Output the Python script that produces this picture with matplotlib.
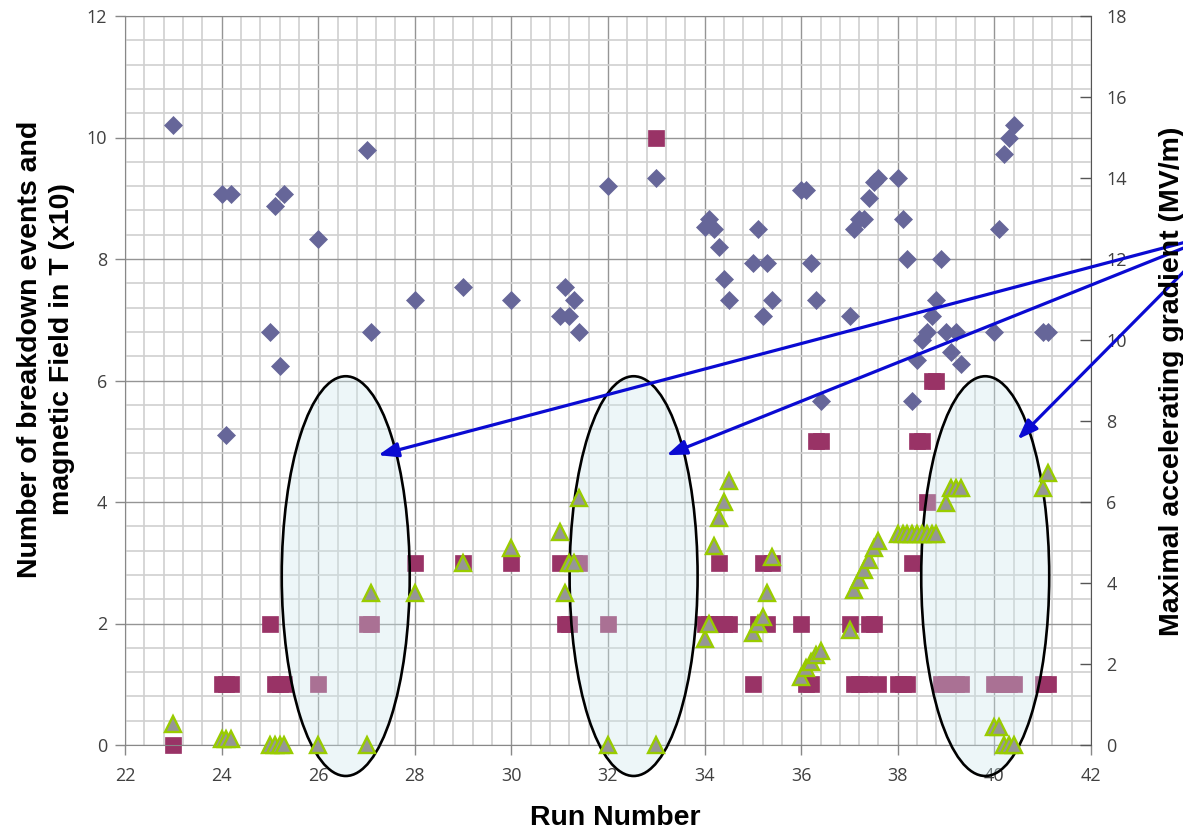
import matplotlib
matplotlib.use('Agg')
import matplotlib.pyplot as plt
from matplotlib.patches import Ellipse
from matplotlib.ticker import MultipleLocator

# max accelerating gradient (MV/m), right axis
grad_run = [23.0, 24.0, 24.1, 24.2, 25.0, 25.1, 25.2, 25.3, 26.0, 27.0, 27.1,
            28.0, 29.0, 30.0, 31.0, 31.1, 31.2, 31.3, 31.4, 32.0, 33.0,
            34.0, 34.1, 34.2, 34.3, 34.4, 34.5, 35.0, 35.1, 35.2, 35.3, 35.4,
            36.0, 36.1, 36.2, 36.3, 36.4, 37.0, 37.1, 37.2, 37.3, 37.4, 37.5, 37.6,
            38.0, 38.1, 38.2, 38.3, 38.4, 38.5, 38.6, 38.7, 38.8, 38.9,
            39.0, 39.1, 39.2, 39.3, 40.0, 40.1, 40.2, 40.3, 40.4, 41.0, 41.1]
grad_val = [15.3, 13.6, 7.65, 13.6, 10.2, 13.3, 9.35, 13.6, 12.5, 14.7, 10.2,
            11.0, 11.3, 11.0, 10.6, 11.3, 10.6, 11.0, 10.2, 13.8, 14.0,
            12.8, 13.0, 12.75, 12.3, 11.5, 11.0, 11.9, 12.75, 10.6, 11.9, 11.0,
            13.7, 13.7, 11.9, 11.0, 8.5, 10.6, 12.75, 13.0, 13.0, 13.5, 13.9, 14.0,
            14.0, 13.0, 12.0, 8.5, 9.5, 10.0, 10.2, 10.6, 11.0, 12.0,
            10.2, 9.7, 10.2, 9.4, 10.2, 12.75, 14.6, 15.0, 15.3, 10.2, 10.2]

# number of breakdown events, left axis
bd_run = [23.0, 24.0, 24.1, 24.2, 25.0, 25.1, 25.2, 25.3, 26.0, 27.0, 27.1,
          28.0, 29.0, 30.0, 31.0, 31.1, 31.2, 31.3, 31.4, 32.0, 33.0,
          34.0, 34.1, 34.2, 34.3, 34.4, 34.5, 35.0, 35.1, 35.2, 35.3, 35.4,
          36.0, 36.1, 36.2, 36.3, 36.4, 37.0, 37.1, 37.2, 37.3, 37.4, 37.5, 37.6,
          38.0, 38.1, 38.2, 38.3, 38.4, 38.5, 38.6, 38.7, 38.8, 38.9,
          39.0, 39.1, 39.2, 39.3, 40.0, 40.1, 40.2, 40.3, 40.4, 41.0, 41.1]
bd_val = [0, 1, 1, 1, 2, 1, 1, 1, 1, 2, 2,
          3, 3, 3, 3, 2, 2, 3, 3, 2, 10,
          2, 2, 2, 3, 2, 2, 1, 2, 3, 2, 3,
          2, 1, 1, 5, 5, 2, 1, 1, 1, 2, 2, 1,
          1, 1, 1, 3, 5, 5, 4, 6, 6, 1,
          1, 1, 1, 1, 1, 1, 1, 1, 1, 1, 1]

# magnetic field in T (x10), left axis
b_run = [23.0, 24.0, 24.1, 24.2, 25.0, 25.1, 25.2, 25.3, 26.0, 27.0, 27.1,
         28.0, 29.0, 30.0, 31.0, 31.1, 31.2, 31.3, 31.4, 32.0, 33.0,
         34.0, 34.1, 34.2, 34.3, 34.4, 34.5, 35.0, 35.1, 35.2, 35.3, 35.4,
         36.0, 36.1, 36.2, 36.3, 36.4, 37.0, 37.1, 37.2, 37.3, 37.4, 37.5, 37.6,
         38.0, 38.1, 38.2, 38.3, 38.4, 38.5, 38.6, 38.7, 38.8,
         39.0, 39.1, 39.2, 39.3, 40.0, 40.1, 40.2, 40.3, 40.4, 41.0, 41.1]
b_val = [0.35, 0.1, 0.1, 0.1, 0, 0, 0, 0, 0, 0, 2.5,
         2.5, 3.0, 3.25, 3.5, 2.5, 3.0, 3.0, 4.07, 0, 0,
         1.75, 2.0, 3.27, 3.73, 4.0, 4.35, 1.85, 2.0, 2.1, 2.5, 3.1,
         1.12, 1.26, 1.37, 1.48, 1.54, 1.89, 2.55, 2.72, 2.88, 3.05, 3.24, 3.35,
         3.48, 3.48, 3.48, 3.48, 3.48, 3.48, 3.48, 3.48, 3.48,
         3.98, 4.23, 4.23, 4.23, 0.3, 0.3, 0, 0, 0, 4.23, 4.47]

# highlighted regions and arrows (left axis units)
ell_x = [26.57, 32.53, 39.81]
ell_y = 2.78
ell_w = 2.65
ell_h = 6.58
arrow_from = (44.73, 8.44)
arrow_to = [(27.24, 4.77), (33.21, 4.77), (40.48, 5.03)]

fig = plt.figure(figsize=(11.83, 8.32), dpi=100)
ax = fig.add_axes([125 / 1183, 87 / 832, 966 / 1183, 729 / 832])
ax2 = ax.twinx()

ax.set_xlim(22, 42)
ax.set_ylim(0, 12)
ax2.set_ylim(0, 18)

ax.xaxis.set_major_locator(MultipleLocator(2))
ax.xaxis.set_minor_locator(MultipleLocator(0.4))
ax.yaxis.set_major_locator(MultipleLocator(2))
ax.yaxis.set_minor_locator(MultipleLocator(0.4))
ax2.yaxis.set_major_locator(MultipleLocator(2))

ax.set_axisbelow(True)
ax.grid(which='minor', color='#d0d0d0', lw=1.2)
ax.grid(which='major', color='#959595', lw=1.0)

tick_font = dict(family=['Open Sans', 'DejaVu Sans'], size=13)
ax.tick_params(which='minor', length=0)
ax.tick_params(axis='x', which='major', direction='out', length=7, width=1,
               color='#888888', pad=9, labelcolor='#404040')
ax.tick_params(axis='y', which='major', direction='out', length=7, width=1,
               color='#888888', pad=6, labelcolor='#404040')
ax2.tick_params(axis='y', which='major', direction='in', length=8, width=1,
                color='#555555', pad=11, labelcolor='#404040')
for lab in ax.get_xticklabels() + ax.get_yticklabels() + ax2.get_yticklabels():
    lab.set_fontfamily(tick_font['family'])
    lab.set_fontsize(tick_font['size'])

for sp in ['left', 'bottom', 'top']:
    ax.spines[sp].set_color('#888888')
    ax2.spines[sp].set_visible(False)
ax.spines['right'].set_visible(False)
ax2.spines['right'].set_color('#555555')

# squares below the highlight ellipses, triangles above
ax.plot(bd_run, bd_val, 's', ms=11, color='#993366', mec='#993366',
        mew=0.5, zorder=2, clip_on=False)

for cx in ell_x:
    ax.add_patch(Ellipse((cx, ell_y), ell_w, ell_h, facecolor=(0.80, 0.90, 0.92, 0.35),
                         edgecolor='black', lw=1.9, zorder=3, clip_on=False))

ax.plot(b_run, b_val, '^', ms=11, color='#969696', mec='#99cc00', mew=1.7,
        zorder=4, clip_on=False)

ax2.plot(grad_run, grad_val, 'D', ms=9.2, color='#666699', mec='#666699',
         mew=0.5, zorder=3, clip_on=False)

for tip in arrow_to:
    ax2.annotate('', xy=tip, xycoords=ax.transData, xytext=arrow_from,
                 textcoords=ax.transData, annotation_clip=False,
                 arrowprops=dict(arrowstyle='-|>,head_length=0.6,head_width=0.22',
                                 color='#0a0ad2', lw=2.3, mutation_scale=20,
                                 shrinkA=0, shrinkB=0), zorder=5)

label_font = dict(family=['Liberation Sans', 'DejaVu Sans'], size=20.5, weight='bold')
fig.text(615 / 1183, (832 - 818) / 832, 'Run Number', ha='center', va='center',
         **label_font)
fig.text(46 / 1183, (832 - 349) / 832,
         'Number of breakdown events and\nmagnetic Field in T (x10)',
         rotation=90, ha='center', va='center', multialignment='center',
         linespacing=1.3, **label_font)
fig.text(1172 / 1183, (832 - 381) / 832, 'Maximal accelerating gradient (MV/m)',
         rotation=90, ha='center', va='center', **label_font)

fig.savefig('out.png', dpi=100)
